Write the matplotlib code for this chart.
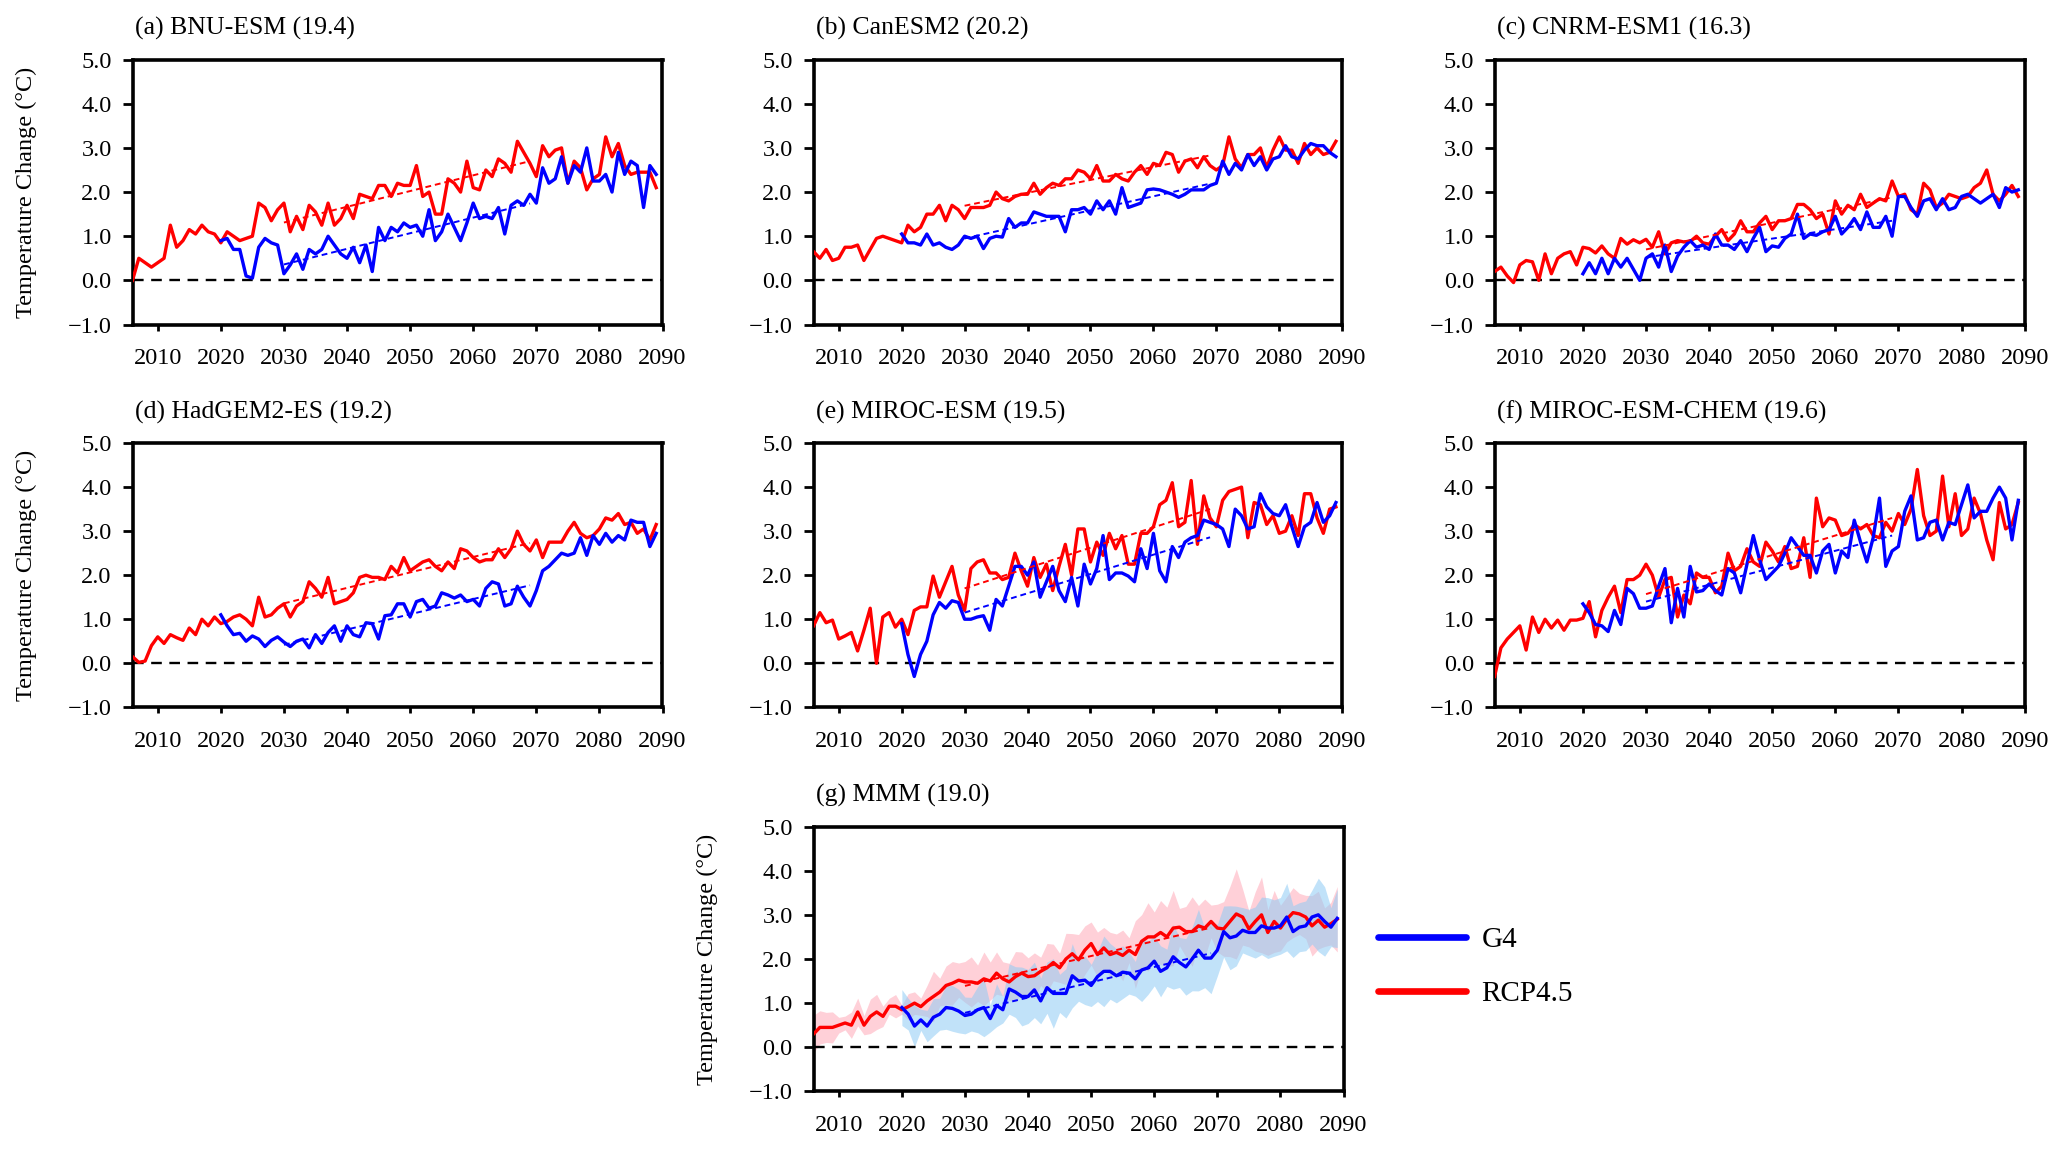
import numpy as np
import matplotlib
matplotlib.use("Agg")
import matplotlib.pyplot as plt
from matplotlib.lines import Line2D
from matplotlib.ticker import FuncFormatter

plt.rcParams['font.family'] = ['Liberation Serif', 'DejaVu Serif']

years_rcp = np.arange(2006, 2090)
years_g4 = np.arange(2020, 2090)
trend_years = [2030, 2069]

titles = ["(a) BNU-ESM (19.4)", "(b) CanESM2 (20.2)", "(c) CNRM-ESM1 (16.3)",
          "(d) HadGEM2-ES (19.2)", "(e) MIROC-ESM (19.5)", "(f) MIROC-ESM-CHEM (19.6)",
          "(g) MMM (19.0)"]

bnu_rcp = [0.0, 0.5, 0.4, 0.3, 0.4, 0.5, 1.25, 0.75, 0.9, 1.15,
           1.05, 1.25, 1.1, 1.05, 0.85, 1.1, 1.0, 0.9, 0.95, 1.0,
           1.75, 1.65, 1.35, 1.6, 1.75, 1.1, 1.45, 1.15, 1.7, 1.55,
           1.25, 1.75, 1.25, 1.4, 1.7, 1.4, 1.95, 1.9, 1.85, 2.15,
           2.15, 1.9, 2.2, 2.15, 2.15, 2.6, 1.9, 2.0, 1.5, 1.5,
           2.3, 2.2, 2.0, 2.7, 2.1, 2.05, 2.5, 2.35, 2.75, 2.65,
           2.45, 3.15, 2.9, 2.65, 2.35, 3.05, 2.8, 2.95, 3.0, 2.2,
           2.7, 2.55, 2.05, 2.3, 2.4, 3.25, 2.8, 3.1, 2.6, 2.4,
           2.45, 2.45, 2.45, 2.1]
bnu_g4 = [0.9, 0.95, 0.7, 0.7, 0.1, 0.05, 0.75, 0.95, 0.85, 0.8,
          0.15, 0.35, 0.6, 0.25, 0.7, 0.6, 0.7, 1.0, 0.8, 0.6,
          0.5, 0.75, 0.4, 0.8, 0.2, 1.2, 0.9, 1.2, 1.1, 1.3,
          1.2, 1.25, 1.0, 1.6, 0.9, 1.1, 1.5, 1.2, 0.9, 1.3,
          1.75, 1.4, 1.45, 1.4, 1.65, 1.05, 1.7, 1.8, 1.7, 1.95,
          1.75, 2.55, 2.2, 2.3, 2.8, 2.2, 2.6, 2.45, 3.0, 2.25,
          2.25, 2.4, 2.0, 2.9, 2.4, 2.7, 2.6, 1.65, 2.6, 2.4]

can_rcp = [0.65, 0.5, 0.7, 0.45, 0.5, 0.75, 0.75, 0.8, 0.45, 0.7,
           0.95, 1.0, 0.95, 0.9, 0.85, 1.25, 1.1, 1.2, 1.5, 1.5,
           1.7, 1.35, 1.7, 1.6, 1.4, 1.65, 1.65, 1.65, 1.7, 2.0,
           1.85, 1.8, 1.9, 1.95, 1.95, 2.2, 1.95, 2.1, 2.2, 2.15,
           2.3, 2.3, 2.5, 2.45, 2.3, 2.6, 2.25, 2.25, 2.4, 2.3,
           2.25, 2.45, 2.6, 2.4, 2.65, 2.6, 2.9, 2.85, 2.45, 2.7,
           2.75, 2.55, 2.8, 2.6, 2.5, 2.6, 3.25, 2.75, 2.55, 2.85,
           2.85, 3.0, 2.55, 2.95, 3.25, 2.95, 2.95, 2.65, 3.1, 2.85,
           3.0, 2.85, 2.9, 3.15]
can_g4 = [1.05, 0.85, 0.85, 0.8, 1.05, 0.8, 0.85, 0.75, 0.7, 0.8,
          1.0, 0.95, 1.0, 0.72, 0.95, 1.0, 0.98, 1.4, 1.2, 1.3,
          1.3, 1.55, 1.5, 1.45, 1.45, 1.45, 1.1, 1.6, 1.6, 1.65,
          1.5, 1.8, 1.6, 1.8, 1.5, 2.1, 1.65, 1.7, 1.75, 2.05,
          2.07, 2.05, 2.0, 1.95, 1.88, 1.95, 2.05, 2.05, 2.05, 2.15,
          2.2, 2.7, 2.4, 2.65, 2.5, 2.85, 2.6, 2.8, 2.5, 2.75,
          2.8, 3.05, 2.8, 2.75, 2.95, 3.1, 3.05, 3.05, 2.9, 2.8]

cnrm_rcp = [0.2, 0.3, 0.1, -0.05, 0.35, 0.45, 0.42, 0.0, 0.6, 0.15,
            0.5, 0.6, 0.65, 0.35, 0.75, 0.72, 0.62, 0.78, 0.6, 0.5,
            0.95, 0.82, 0.92, 0.85, 0.93, 0.75, 1.1, 0.6, 0.85, 0.9,
            0.87, 0.88, 1.0, 0.85, 0.82, 1.0, 1.15, 0.9, 1.05, 1.35,
            1.1, 1.1, 1.3, 1.45, 1.15, 1.35, 1.35, 1.4, 1.72, 1.72,
            1.6, 1.4, 1.5, 1.05, 1.8, 1.5, 1.7, 1.6, 1.95, 1.65,
            1.75, 1.85, 1.8, 2.25, 1.9, 1.95, 1.6, 1.5, 2.2, 2.05,
            1.65, 1.75, 1.95, 1.9, 1.85, 1.9, 2.1, 2.2, 2.5, 1.95,
            1.8, 1.95, 2.15, 1.9]
cnrm_g4 = [0.15, 0.4, 0.15, 0.5, 0.15, 0.5, 0.3, 0.5, 0.25, 0.0,
           0.5, 0.6, 0.3, 0.8, 0.2, 0.55, 0.75, 0.9, 0.75, 0.8,
           0.7, 1.05, 0.8, 0.8, 0.7, 0.9, 0.65, 0.95, 1.2, 0.65,
           0.78, 0.75, 0.95, 1.05, 1.5, 0.95, 1.05, 1.02, 1.1, 1.15,
           1.45, 1.05, 1.2, 1.4, 1.15, 1.55, 1.2, 1.2, 1.45, 1.0,
           1.9, 1.9, 1.65, 1.45, 1.8, 1.85, 1.6, 1.85, 1.6, 1.65,
           1.9, 1.95, 1.85, 1.75, 1.85, 1.95, 1.65, 2.1, 2.0, 2.05]

had_rcp = [0.15, 0.02, 0.05, 0.4, 0.6, 0.45, 0.65, 0.58, 0.52, 0.8,
           0.65, 1.0, 0.85, 1.05, 0.9, 0.95, 1.05, 1.1, 1.0, 0.85,
           1.5, 1.05, 1.1, 1.25, 1.35, 1.05, 1.3, 1.4, 1.85, 1.7,
           1.5, 1.95, 1.35, 1.4, 1.45, 1.6, 1.95, 2.0, 1.95, 1.95,
           1.9, 2.2, 2.05, 2.4, 2.1, 2.2, 2.3, 2.35, 2.2, 2.1,
           2.3, 2.15, 2.6, 2.55, 2.4, 2.3, 2.35, 2.35, 2.6, 2.4,
           2.6, 3.0, 2.7, 2.55, 2.8, 2.4, 2.75, 2.75, 2.75, 3.0,
           3.2, 2.95, 2.85, 2.9, 3.05, 3.3, 3.25, 3.4, 3.15, 3.2,
           2.95, 3.05, 2.8, 3.15]
had_g4 = [1.1, 0.85, 0.65, 0.68, 0.5, 0.62, 0.55, 0.38, 0.52, 0.6,
          0.48, 0.38, 0.5, 0.55, 0.35, 0.65, 0.45, 0.7, 0.85, 0.5,
          0.85, 0.65, 0.6, 0.92, 0.9, 0.55, 1.08, 1.1, 1.35, 1.35,
          1.05, 1.4, 1.45, 1.25, 1.3, 1.6, 1.55, 1.48, 1.55, 1.4,
          1.45, 1.3, 1.7, 1.85, 1.8, 1.3, 1.35, 1.75, 1.5, 1.3,
          1.65, 2.1, 2.2, 2.35, 2.5, 2.45, 2.5, 2.85, 2.45, 2.9,
          2.7, 2.95, 2.75, 2.9, 2.8, 3.25, 3.2, 3.2, 2.65, 2.95]

miroc_rcp = [0.85, 1.15, 0.92, 0.98, 0.55, 0.62, 0.7, 0.28, 0.75, 1.25,
             0.0, 1.05, 1.15, 0.82, 1.0, 0.65, 1.2, 1.28, 1.28, 1.98,
             1.5, 1.85, 2.2, 1.55, 1.2, 2.15, 2.3, 2.35, 2.05, 2.05,
             1.9, 1.95, 2.5, 2.1, 1.75, 2.4, 1.95, 2.25, 1.65, 2.2,
             2.7, 2.0, 3.05, 3.05, 2.3, 2.75, 2.45, 2.95, 2.6, 2.9,
             2.25, 2.25, 2.95, 2.95, 3.1, 3.6, 3.7, 4.1, 3.1, 3.2,
             4.15, 2.7, 3.8, 3.3, 3.1, 3.7, 3.9, 3.95, 4.0, 2.85,
             3.65, 3.6, 3.15, 3.35, 2.95, 3.0, 3.35, 2.9, 3.85, 3.85,
             3.3, 2.95, 3.5, 3.55]
miroc_g4 = [0.9, 0.2, -0.3, 0.2, 0.5, 1.1, 1.38, 1.25, 1.42, 1.38,
            1.0, 1.0, 1.05, 1.08, 0.75, 1.45, 1.3, 1.75, 2.2, 2.2,
            2.0, 2.3, 1.5, 1.85, 2.2, 1.65, 1.4, 1.95, 1.3, 2.25,
            1.8, 2.15, 2.9, 1.9, 2.05, 2.05, 1.98, 1.85, 2.6, 2.15,
            2.95, 2.1, 1.85, 2.65, 2.4, 2.75, 2.85, 2.9, 3.25, 3.2,
            3.15, 3.05, 2.65, 3.5, 3.35, 3.05, 3.1, 3.85, 3.55, 3.4,
            3.35, 3.6, 3.1, 2.65, 3.1, 3.2, 3.65, 3.2, 3.35, 3.65]

chem_rcp = [-0.3, 0.35, 0.55, 0.7, 0.85, 0.3, 1.05, 0.7, 1.0, 0.8,
            0.98, 0.75, 0.98, 0.98, 1.02, 1.4, 0.6, 1.2, 1.5, 1.75,
            1.15, 1.9, 1.9, 2.0, 2.25, 2.0, 1.5, 1.9, 1.95, 1.05,
            1.55, 1.35, 2.05, 1.95, 1.95, 1.6, 1.75, 2.5, 2.1, 2.2,
            2.6, 2.3, 2.2, 2.75, 2.55, 2.3, 2.65, 2.15, 2.2, 2.85,
            1.95, 3.75, 3.1, 3.3, 3.25, 2.9, 2.95, 3.15, 3.05, 3.15,
            2.9, 2.85, 3.2, 3.0, 3.4, 3.15, 3.5, 4.4, 3.35, 2.9,
            3.0, 4.25, 3.1, 3.85, 2.9, 3.05, 3.75, 3.4, 2.8, 2.35,
            3.65, 3.05, 3.15, 3.65]
chem_g4 = [1.35, 1.15, 0.88, 0.85, 0.72, 1.2, 0.88, 1.7, 1.58, 1.25,
           1.25, 1.3, 1.75, 2.15, 0.92, 1.7, 1.05, 2.2, 1.62, 1.65,
           1.8, 1.65, 1.55, 2.15, 2.05, 1.6, 2.25, 2.9, 2.35, 1.9,
           2.05, 2.2, 2.5, 2.85, 2.65, 2.45, 2.45, 2.05, 2.55, 2.7,
           2.05, 2.55, 2.4, 3.25, 2.75, 2.3, 2.85, 3.75, 2.2, 2.55,
           2.65, 3.45, 3.8, 2.8, 2.85, 3.2, 3.25, 2.8, 3.2, 3.15,
           3.6, 4.05, 3.3, 3.45, 3.45, 3.75, 4.0, 3.75, 2.8, 3.7]

mmm_rcp = [0.3, 0.45, 0.45, 0.45, 0.5, 0.55, 0.5, 0.8, 0.5, 0.7,
           0.8, 0.7, 0.93, 0.93, 0.85, 0.92, 1.0, 0.92, 1.05, 1.15,
           1.25, 1.4, 1.45, 1.52, 1.48, 1.48, 1.45, 1.55, 1.5, 1.68,
           1.55, 1.48, 1.6, 1.68, 1.6, 1.62, 1.72, 1.8, 1.92, 1.8,
           2.0, 2.12, 1.98, 2.2, 2.35, 2.1, 2.25, 2.1, 2.15, 2.08,
           2.2, 2.1, 2.4, 2.5, 2.5, 2.6, 2.5, 2.7, 2.72, 2.62,
           2.62, 2.75, 2.7, 2.85, 2.7, 2.68, 2.85, 3.02, 2.95, 2.68,
           2.85, 3.0, 2.6, 2.85, 2.7, 2.9, 3.05, 3.02, 2.95, 2.75,
           2.88, 2.72, 2.8, 2.9]
mmm_g4 = [0.9, 0.75, 0.48, 0.62, 0.48, 0.68, 0.75, 0.9, 0.88, 0.82,
          0.72, 0.75, 0.85, 0.9, 0.65, 0.95, 0.85, 1.32, 1.25, 1.15,
          1.15, 1.3, 1.05, 1.35, 1.22, 1.22, 1.22, 1.62, 1.5, 1.52,
          1.4, 1.6, 1.72, 1.72, 1.62, 1.7, 1.68, 1.55, 1.75, 1.8,
          1.95, 1.72, 1.8, 2.05, 1.92, 1.82, 2.0, 2.2, 2.02, 2.02,
          2.2, 2.62, 2.48, 2.52, 2.65, 2.6, 2.6, 2.75, 2.7, 2.7,
          2.75, 2.95, 2.62, 2.72, 2.75, 2.95, 3.0, 2.85, 2.72, 2.92]

# trend line values at 2030 and 2069 (RCP4.5, G4)
rcp_trends = [[1.31, 2.70], [1.69, 2.83], [0.70, 1.88], [1.36, 2.73],
              [1.70, 3.50], [1.57, 3.30], [1.39, 2.71]]
g4_trends = [[0.36, 1.74], [0.95, 2.19], [0.52, 1.35], [0.42, 1.77],
             [1.15, 2.86], [1.40, 2.90], [0.78, 2.13]]

rcp_all = [bnu_rcp, can_rcp, cnrm_rcp, had_rcp, miroc_rcp, chem_rcp, mmm_rcp]
g4_all = [bnu_g4, can_g4, cnrm_g4, had_g4, miroc_g4, chem_g4, mmm_g4]

# ensemble spread (across the six models)
rcp_std = np.std(np.array(rcp_all[:6]), axis=0, ddof=1)
g4_std = np.std(np.array(g4_all[:6]), axis=0, ddof=1)

W, H = 1560.0, 872.0
def rect(l, t, r, b):
    return [l / W, 1 - b / H, (r - l) / W, (b - t) / H]

rects = [rect(100, 45, 500, 245), rect(614, 45, 1013, 245), rect(1128, 45, 1528, 245),
         rect(100, 334.5, 500, 534), rect(614, 334.5, 1013, 534), rect(1128, 334.5, 1528, 534),
         rect(614, 624, 1014, 824)]

RED = '#ff0000'
BLUE = '#0000ff'

fig = plt.figure(figsize=(20.67, 11.55), dpi=100)
fmt = FuncFormatter(lambda v, p: f"{v:.1f}".replace('-', '\u2212'))

for i in range(7):
    ax = fig.add_axes(rects[i])
    rcp = np.array(rcp_all[i])
    g4 = np.array(g4_all[i])
    if i == 6:
        ax.fill_between(years_rcp, rcp - rcp_std, rcp + rcp_std, color='#ffd0d8',
                        lw=0, zorder=1)
        ax.fill_between(years_g4, g4 - g4_std, g4 + g4_std, color='#8ecbf5',
                        alpha=0.55, lw=0, zorder=1.5)
    ax.axhline(0, color='black', lw=1.7, dashes=(4.5, 3.2), zorder=2)
    ax.plot(years_rcp, rcp, color=RED, lw=2.4, zorder=3)
    ax.plot(years_g4, g4, color=BLUE, lw=2.4, zorder=4)
    ax.plot(trend_years, rcp_trends[i], color=RED, lw=1.4, dashes=(3, 2), zorder=5)
    ax.plot(trend_years, g4_trends[i], color=BLUE, lw=1.4, dashes=(3, 2), zorder=5)

    ax.set_xlim(2006, 2090)
    ax.set_ylim(-1.0, 5.0)
    ax.set_xticks(np.arange(2010, 2091, 10))
    ax.set_yticks(np.arange(-1, 5.1, 1.0))
    ax.yaxis.set_major_formatter(fmt)
    for s in ax.spines.values():
        s.set_linewidth(2.6)
    ax.tick_params(axis='x', direction='out', length=4, width=2, pad=13, labelsize=17.5)
    ax.tick_params(axis='y', direction='out', length=7, width=2, pad=8, labelsize=17.5)
    ax.text(0.005, 1.094, titles[i], transform=ax.transAxes, fontsize=18.5,
            ha='left', va='baseline')
    if i in (0, 3, 6):
        ax.set_ylabel('Temperature Change (°C)', fontsize=17.5)
        ax.yaxis.set_label_coords(-0.18, 0.5)

handles = [Line2D([], [], color=BLUE, lw=4.8, solid_capstyle='round'),
           Line2D([], [], color=RED, lw=4.8, solid_capstyle='round')]
fig.legend(handles=handles, labels=['G4', 'RCP4.5'], loc='center left',
           bbox_to_anchor=(1040 / W, 1 - 730 / H), frameon=False, fontsize=21,
           handlelength=3.0, handletextpad=0.55, labelspacing=0.95, borderpad=0,
           borderaxespad=0)

fig.savefig('out.png', dpi=100)
